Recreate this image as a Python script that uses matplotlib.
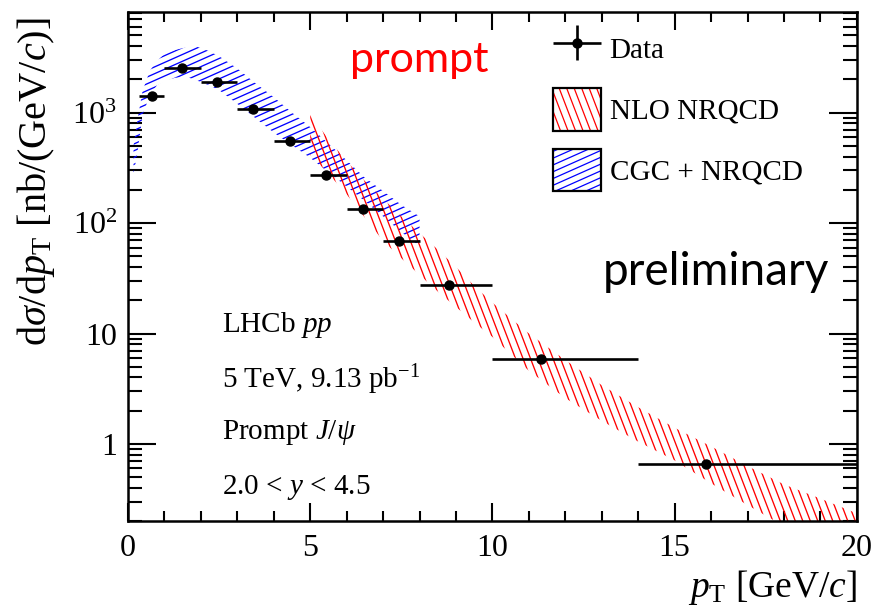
import numpy as np
import matplotlib
matplotlib.use("Agg")
import matplotlib.pyplot as plt
from matplotlib.collections import LineCollection
from matplotlib.legend_handler import HandlerBase, HandlerErrorbar
from matplotlib.patches import Rectangle
from matplotlib.path import Path
from matplotlib.ticker import FixedLocator, FixedFormatter, MultipleLocator, LogLocator, NullFormatter

plt.rcParams["font.family"] = "Liberation Serif"
plt.rcParams["mathtext.fontset"] = "custom"
plt.rcParams["mathtext.rm"] = "Liberation Serif"
plt.rcParams["mathtext.it"] = "Liberation Serif:italic"
plt.rcParams["mathtext.bf"] = "Liberation Serif:bold"


# data points (bins in pT, cross-section in nb/(GeV/c))
pt_lo = [0.3, 1, 2, 3, 4, 5, 6, 7, 8, 10, 14]
pt_hi = [1, 2, 3, 4, 5, 6, 7, 8, 10, 14, 20]
pt_mean = [0.65, 1.49, 2.45, 3.44, 4.44, 5.44, 6.44, 7.43, 8.80, 11.33, 15.87]
xsec = [1420, 2520, 1900, 1075, 550, 273, 134, 69, 27.5, 5.9, 0.66]
xsec_err = [0, 0, 0, 0, 0, 0, 0, 0, 0, 0, 0]

# NLO NRQCD band
nlo_pt = [5.0, 5.5, 6.0, 6.5, 7.0, 7.5, 8.0, 8.5, 9.0, 9.5, 10,
          11, 12, 13, 14, 15, 16, 17, 18, 19, 20]
nlo_hi = [955, 575, 363, 240, 166, 115, 81, 57.5, 40, 27, 19,
          10, 5.75, 3.4, 2.15, 1.4, 0.95, 0.63, 0.43, 0.32, 0.235]
nlo_lo = [415, 280, 182, 112, 69, 48, 34, 24, 17.4, 12.6, 9.3,
          4.6, 2.6, 1.62, 1.05, 0.71, 0.44, 0.28, 0.18, 0.126, 0.089]

# CGC + NRQCD band
cgc_pt = [0.15, 0.25, 0.4, 0.6, 0.8, 1.0, 1.3, 1.6, 1.9, 2.2, 2.5,
          3.0, 3.5, 4.0, 4.5, 5.0, 5.5, 6.0, 6.5, 7.0, 7.5, 8.0]
cgc_hi = [500, 830, 1580, 2400, 2950, 3400, 3700, 3900, 3940, 3630, 3240,
          2510, 1840, 1380, 1000, 740, 525, 370, 257, 195, 146, 115]
cgc_lo = [280, 415, 955, 1450, 1780, 1950, 2070, 2110, 1950, 1780, 1600,
          1200, 890, 660, 507, 390, 288, 214, 158, 115, 83, 62]

RED = "#ff0000"
BLUE = "#0000ff"
RED_ANGLE, RED_STEP = -69, 7.0
BLUE_ANGLE, BLUE_STEP = 24, 6.2


def hatch_segments(x0, y0, w, h, angle, step):
    th = np.radians(angle)
    d = np.array([np.cos(th), np.sin(th)])
    n = np.array([-np.sin(th), np.cos(th)])
    corners = np.array([[x0, y0], [x0 + w, y0], [x0, y0 + h], [x0 + w, y0 + h]])
    proj = corners @ n
    size = w + h
    segs = []
    for c in np.arange(proj.min(), proj.max() + step, step):
        p0 = c * n - size * d
        p1 = c * n + size * d
        segs.append([tuple(p0), tuple(p1)])
    return segs


def hatch_band(ax, x, lo, hi, color, angle, step):
    fig = ax.figure
    bb = ax.get_position()
    w = bb.width * fig.get_figwidth() * fig.dpi
    h = bb.height * fig.get_figheight() * fig.dpi
    segs = hatch_segments(0, 0, w, h, angle, step)
    segs = [[(a[0] / w, a[1] / h), (b[0] / w, b[1] / h)] for a, b in segs]
    lc = LineCollection(segs, colors=color, linewidths=0.95,
                        transform=ax.transAxes, zorder=2)
    verts = list(zip(x, hi)) + list(zip(x[::-1], lo[::-1]))
    verts.append(verts[0])
    lc.set_clip_path(Path(verts, closed=True), ax.transData)
    lc.set_clip_box(ax.bbox)
    ax.add_collection(lc)


class HatchHandler(HandlerBase):

    def __init__(self, color, angle, step):
        super().__init__()
        self.color = color
        self.angle = angle
        self.step = step

    def create_artists(self, legend, orig_handle, xdescent, ydescent,
                       width, height, fontsize, trans):
        x0, y0 = -xdescent, -ydescent
        step = self.step * 72 / 100
        segs = hatch_segments(x0, y0, width, height, self.angle, step)
        clip = Rectangle((x0, y0), width, height, transform=trans)
        lc = LineCollection(segs, colors=self.color, linewidths=0.9,
                            transform=trans)
        lc.set_clip_path(clip)
        box = Rectangle((x0, y0), width, height, facecolor="none",
                        edgecolor="black", linewidth=1.6, transform=trans)
        return [lc, box]


fig = plt.figure(figsize=(8.77, 6.16), dpi=100)
ax = fig.add_axes([0.146, 0.154, 0.831, 0.8265])

ax.set_xlim(0, 20)
ax.set_yscale("log")
ax.set_ylim(0.2, 8150)

hatch_band(ax, cgc_pt, cgc_lo, cgc_hi, BLUE, BLUE_ANGLE, BLUE_STEP)
hatch_band(ax, nlo_pt, nlo_lo, nlo_hi, RED, RED_ANGLE, RED_STEP)

xerr = [np.array(pt_mean) - np.array(pt_lo), np.array(pt_hi) - np.array(pt_mean)]
data = ax.errorbar(pt_mean, xsec, xerr=xerr, yerr=xsec_err, fmt="o",
                   color="black", markersize=6.5, elinewidth=1.9, capsize=0,
                   zorder=5)

# ticks, ROOT style
ax.xaxis.set_major_locator(MultipleLocator(5))
ax.xaxis.set_minor_locator(MultipleLocator(1))
ax.yaxis.set_major_locator(FixedLocator([1, 10, 100, 1000]))
ax.yaxis.set_major_formatter(FixedFormatter(["1", "10", r"$10^{2}$", r"$10^{3}$"]))
ax.yaxis.set_minor_locator(LogLocator(base=10, subs=np.arange(2, 10)))
ax.yaxis.set_minor_formatter(NullFormatter())
ax.tick_params(which="both", direction="in", top=True, right=True, width=1.5)
ax.tick_params(axis="x", which="major", length=13, labelsize=23, pad=9)
ax.tick_params(axis="x", which="minor", length=7)
ax.tick_params(axis="y", which="major", length=20, labelsize=23, pad=8)
ax.tick_params(axis="y", which="minor", length=10)
for s in ax.spines.values():
    s.set_linewidth(1.8)

ax.set_xlabel(r"$p_{\mathrm{T}}$ [GeV/$c$]", fontsize=27, loc="right")
ax.set_ylabel(r"$\mathrm{d}\sigma/\mathrm{d}p_{\mathrm{T}}$ [nb/(GeV/$c$)]",
              fontsize=29, loc="top")
ax.yaxis.set_label_coords(-0.098, 0.99)

ax.text(0.400, 0.905, "prompt", color=RED, fontsize=31, family="Lato",
        ha="center", va="center", transform=ax.transAxes)
ax.text(0.652, 0.49, "preliminary", color="black", fontsize=33, family="Lato",
        ha="left", va="center", transform=ax.transAxes)

info = ["LHCb $pp$", "5 TeV, 9.13 pb$^{-1}$", r"Prompt $J/\psi$",
        r"2.0 < $y$ < 4.5"]
info_y = [0.385, 0.277, 0.175, 0.067]
for t, yy in zip(info, info_y):
    ax.text(0.129, yy, t, fontsize=21, ha="left", va="center",
            transform=ax.transAxes)

nlo_proxy = Rectangle((0, 0), 1, 1)
cgc_proxy = Rectangle((0, 0), 1, 1)
ax.legend([data, nlo_proxy, cgc_proxy], ["Data", "NLO NRQCD", "CGC + NRQCD"],
          handler_map={
              type(data): HandlerErrorbar(xerr_size=0.82, yerr_size=0.6),
              nlo_proxy: HatchHandler(RED, RED_ANGLE, RED_STEP),
              cgc_proxy: HatchHandler(BLUE, BLUE_ANGLE, BLUE_STEP),
          },
          loc="upper left", bbox_to_anchor=(0.583, 0.969), frameon=False,
          fontsize=21, borderpad=0, borderaxespad=0, handlelength=1.64,
          handleheight=1.84, labelspacing=0.64, handletextpad=0.3)

fig.savefig("out.png", dpi=100)
